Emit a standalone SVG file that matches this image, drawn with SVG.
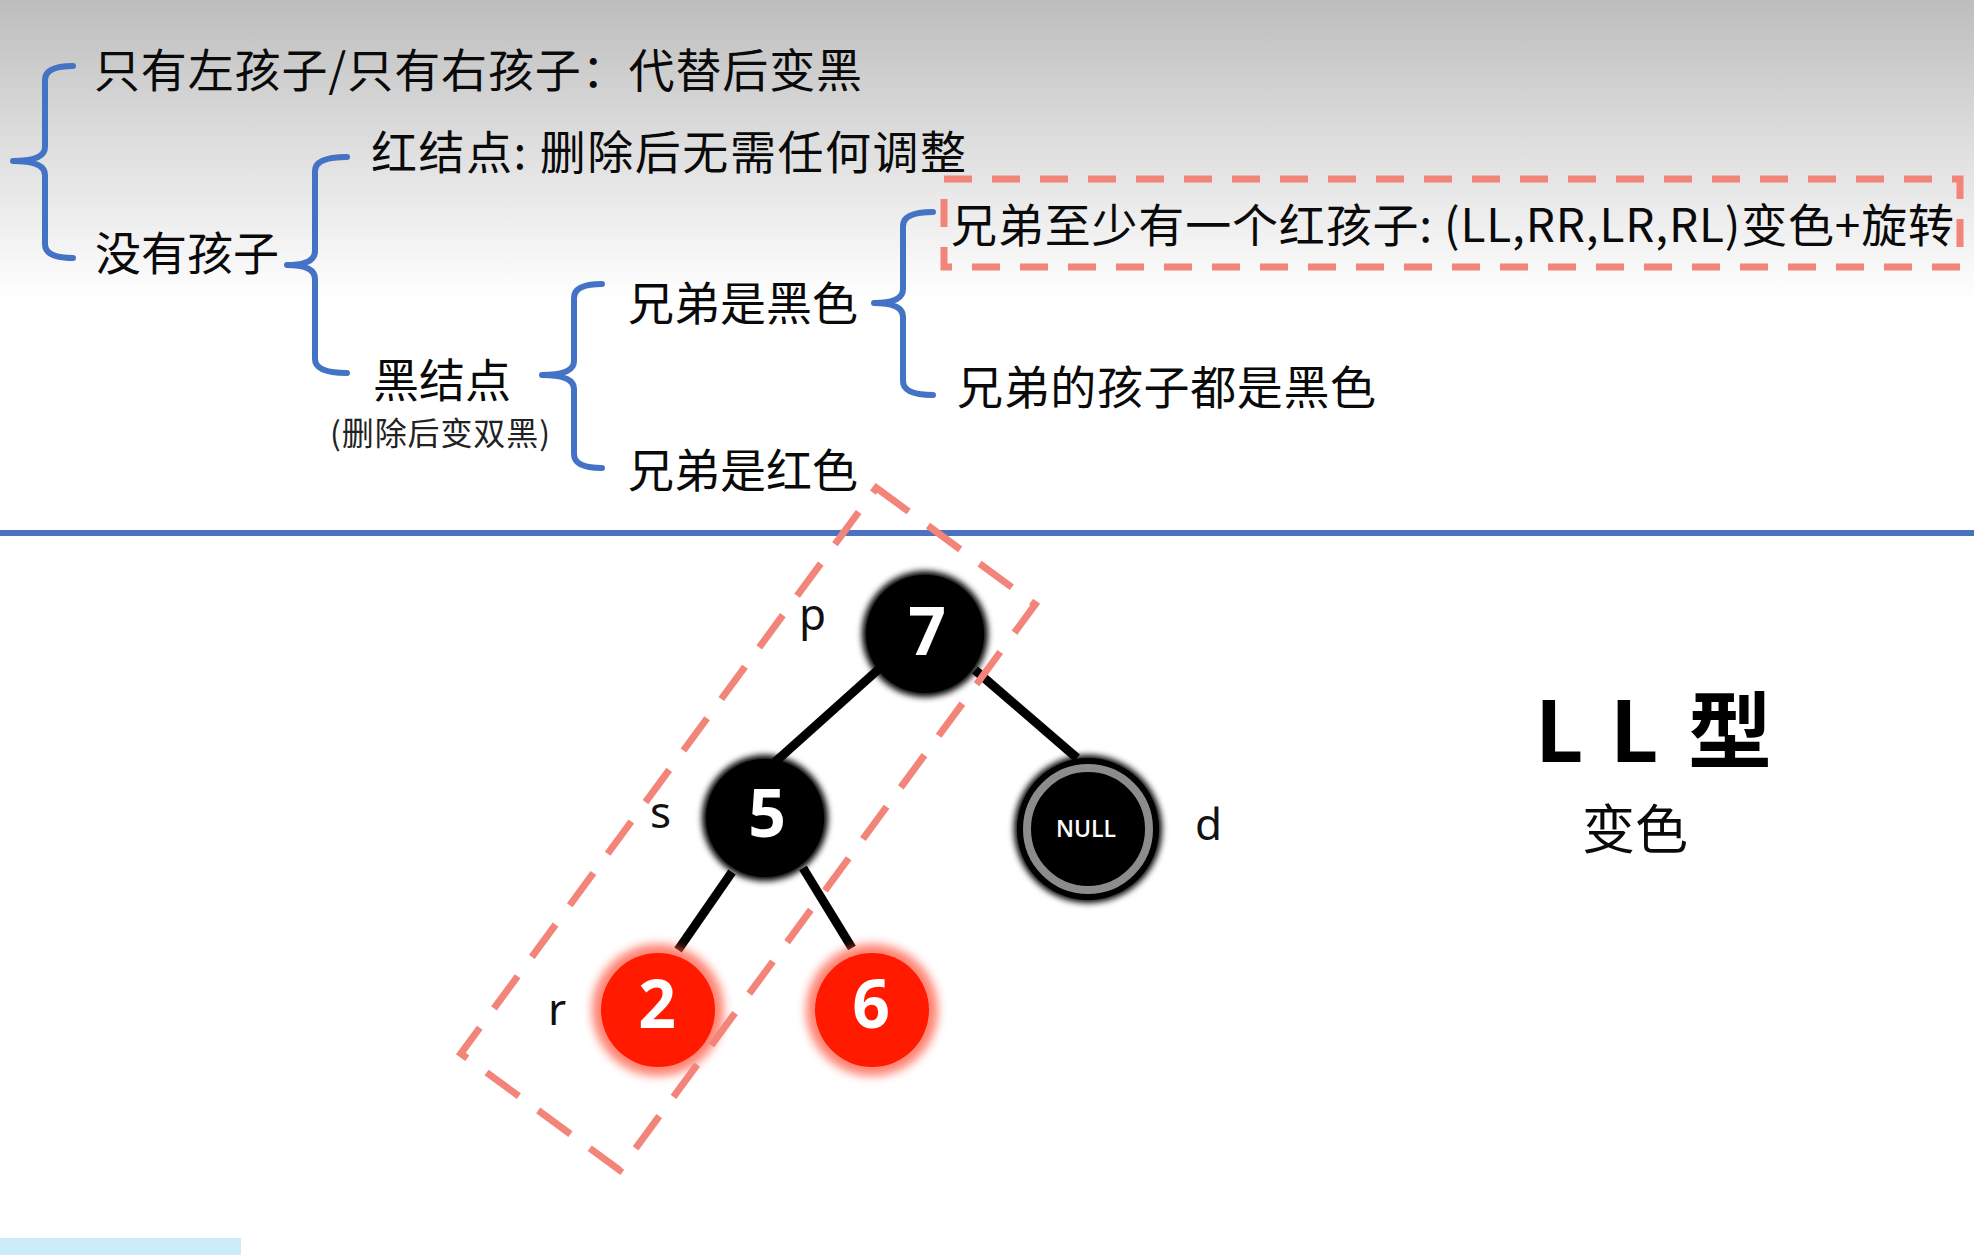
<svg xmlns="http://www.w3.org/2000/svg" width="1974" height="1255" viewBox="0 0 1974 1255">
<defs>
<linearGradient id="bg" x1="0" y1="0" x2="0" y2="300" gradientUnits="userSpaceOnUse">
<stop offset="0" stop-color="#bdbdbd"/>
<stop offset="0.45" stop-color="#dcdcdc"/>
<stop offset="1" stop-color="#ffffff"/>
</linearGradient>
<filter id="soft" x="-30%" y="-30%" width="160%" height="160%"><feGaussianBlur stdDeviation="3"/></filter>
<filter id="glow" x="-40%" y="-40%" width="180%" height="180%"><feGaussianBlur stdDeviation="5"/></filter>
<style>
.cn{font-family:"Noto Sans CJK SC","Noto Sans",sans-serif;fill:#0a0a0a;font-size:46px}
.sm{font-size:32px;fill:#222}
.big{font-size:53px}
.brace{fill:none;stroke:#4472c4;stroke-width:6;stroke-linecap:round;stroke-linejoin:round}
.dash{fill:none;stroke:#f28479;stroke-width:7}
.edge{stroke:#000;stroke-width:9;stroke-linecap:butt}
.lbl{font-family:"Noto Sans","Open Sans",sans-serif;font-size:44px;fill:#111}
.num{font-family:"Open Sans","Noto Sans",sans-serif;font-weight:700;font-size:66px;fill:#fff;text-anchor:middle}
.blk{fill:#000}
.red{fill:#ff1a00}
</style>
</defs>
<rect width="1974" height="1255" fill="#fff"/>
<rect width="1974" height="300" fill="url(#bg)"/>
<rect x="0" y="1238" width="241" height="17" fill="#cdecf9"/>

<g id="braces">
<path class="brace" d="M73 66 Q45 66 45 80 L45 147 Q45 161 13 161 Q45 161 45 175 L45 244 Q45 258 73 258"/>
<path class="brace" d="M347 157 Q315 157 315 171 L315 251 Q315 265 287 265 Q315 265 315 279 L315 359 Q315 373 347 373"/>
<path class="brace" d="M602 284 Q574 284 574 298 L574 361 Q574 375 542 375 Q574 375 574 389 L574 454 Q574 468 602 468"/>
<path class="brace" d="M933 212 Q903 212 903 226 L903 289 Q903 303 874 303 Q903 303 903 317 L903 381 Q903 395 933 395"/>
</g>

<g id="outline-text">
<text id="t1" class="cn" x="94" y="87" textLength="768" lengthAdjust="spacing">只有左孩子/只有右孩子：代替后变黑</text>
<text id="t2" class="cn" x="371" y="169" textLength="595" lengthAdjust="spacing">红结点: 删除后无需任何调整</text>
<text id="t3" class="cn" x="95" y="270">没有孩子</text>
<text id="t4" class="cn" x="373" y="397">黑结点</text>
<text id="t5" class="cn sm" x="330" y="445" textLength="220" lengthAdjust="spacing">(删除后变双黑)</text>
<text id="t6" class="cn" x="628" y="320">兄弟是黑色</text>
<text id="t7" class="cn" x="628" y="487">兄弟是红色</text>
<text id="t8" class="cn" x="951" y="242" textLength="1003" lengthAdjust="spacing">兄弟至少有一个红孩子: (LL,RR,LR,RL)变色+旋转</text>
<text id="t9" class="cn" x="957" y="404" textLength="419" lengthAdjust="spacing">兄弟的孩子都是黑色</text>
</g>

<rect class="dash" x="944" y="179" width="1016" height="88" stroke-dasharray="28 20"/>

<rect x="0" y="530" width="1974" height="6" fill="#4a72c0"/>

<g id="connectors">
<line class="edge" x1="880" y1="668" x2="775" y2="762"/>
<line class="edge" x1="975" y1="670" x2="1077" y2="758"/>
<line class="edge" x1="732" y1="872" x2="678" y2="950"/>
<line class="edge" x1="803" y1="868" x2="852" y2="948"/>
</g>

<g id="node-7">
<circle cx="925" cy="634" r="63" class="blk" filter="url(#soft)"/>
<circle cx="925" cy="634" r="59" class="blk"/>
<text class="num" x="927" y="655">7</text>
</g>
<g id="node-5">
<circle cx="765" cy="818" r="63" class="blk" filter="url(#soft)"/>
<circle cx="765" cy="818" r="59" class="blk"/>
<text class="num" x="767" y="837">5</text>
</g>
<g id="node-null">
<circle cx="1088" cy="829" r="74" class="blk" filter="url(#soft)"/>
<circle cx="1088" cy="829" r="71" class="blk"/>
<circle cx="1088" cy="829" r="61" fill="none" stroke="#8c8c8c" stroke-width="8"/>
<text x="1086" y="837" font-family="Open Sans,Noto Sans,sans-serif" font-weight="600" font-size="23" fill="#fff" text-anchor="middle">NULL</text>
</g>
<g id="node-2">
<circle cx="658" cy="1010" r="66" fill="#ff5a45" opacity="0.75" filter="url(#glow)"/>
<circle cx="658" cy="1010" r="57" class="red"/>
<text class="num" x="657" y="1028">2</text>
</g>
<g id="node-6">
<circle cx="872" cy="1010" r="66" fill="#ff5a45" opacity="0.75" filter="url(#glow)"/>
<circle cx="872" cy="1010" r="57" class="red"/>
<text class="num" x="871" y="1028">6</text>
</g>

<g id="labels">
<text class="lbl" x="799" y="630">p</text>
<text class="lbl" x="650" y="828">s</text>
<text class="lbl" x="548" y="1025">r</text>
<text class="lbl" x="1195" y="840">d</text>
</g>

<rect class="dash" x="-98.5" y="-351" width="197" height="702" stroke-dasharray="40 24" transform="translate(748 829) rotate(36.3)"/>

<g id="title">
<text font-family="Noto Sans CJK SC,Noto Sans,sans-serif" font-weight="700" font-size="84" fill="#000" x="1535 1610 1688" y="762">LL型</text>
<text class="cn big" x="1582" y="849">变色</text>
</g>
</svg>
